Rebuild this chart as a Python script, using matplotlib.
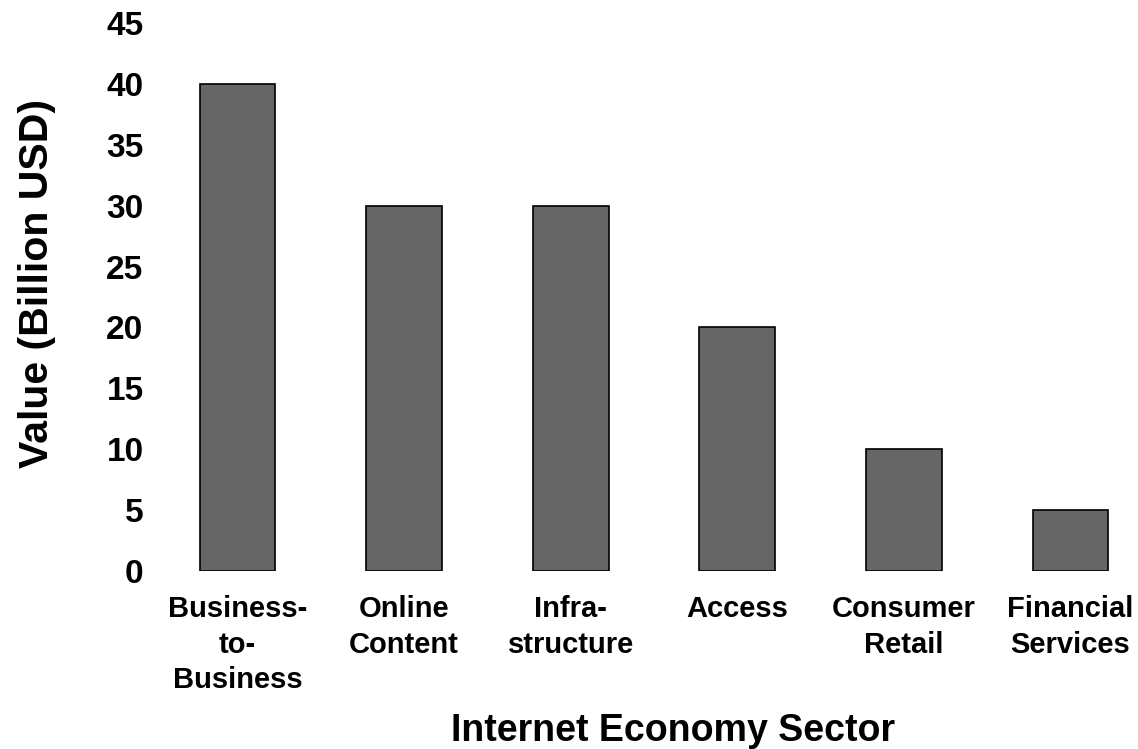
import matplotlib.pyplot as plt

sectors = ['Business-\nto-\nBusiness', 'Online\nContent', 'Infra-\nstructure',
           'Access', 'Consumer\nRetail', 'Financial\nServices']
values = [40, 30, 30, 20, 10, 5]
yticks = [0, 5, 10, 15, 20, 25, 30, 35, 40, 45]

plt.rcParams['font.family'] = ['Liberation Sans', 'DejaVu Sans']
plt.rcParams['font.weight'] = 'bold'

fig = plt.figure(figsize=(11.38, 7.49), dpi=100)
ax = fig.add_axes([170/1138, 1 - 571/749, (1128 - 170)/1138, (571 - 23)/749])

ax.bar(range(len(values)), values, width=0.455, color='#666666',
       edgecolor='black', linewidth=1.2)

ax.set_xlim(-0.405, 5.345)
ax.set_ylim(0, 45)
ax.set_yticks(yticks)
ax.set_xticks(range(len(sectors)))
ax.set_xticklabels(sectors, fontsize=21, fontweight='bold', linespacing=1.36)
ax.tick_params(axis='y', length=0, pad=19, labelsize=24)
ax.tick_params(axis='x', length=0, pad=17)
for lbl in ax.get_yticklabels():
    lbl.set_fontweight('bold')
for s in ax.spines.values():
    s.set_visible(False)

ax.set_ylabel('Value (Billion USD)', fontsize=29.5, fontweight='bold', labelpad=36)
ax.set_xlabel('Internet Economy Sector', fontsize=27, fontweight='bold', labelpad=13)
ax.xaxis.label.set_x((673 - 170) / 958)
ax.yaxis.label.set_y((571 - 283.5) / 548)

fig.savefig('out.png', dpi=100)
